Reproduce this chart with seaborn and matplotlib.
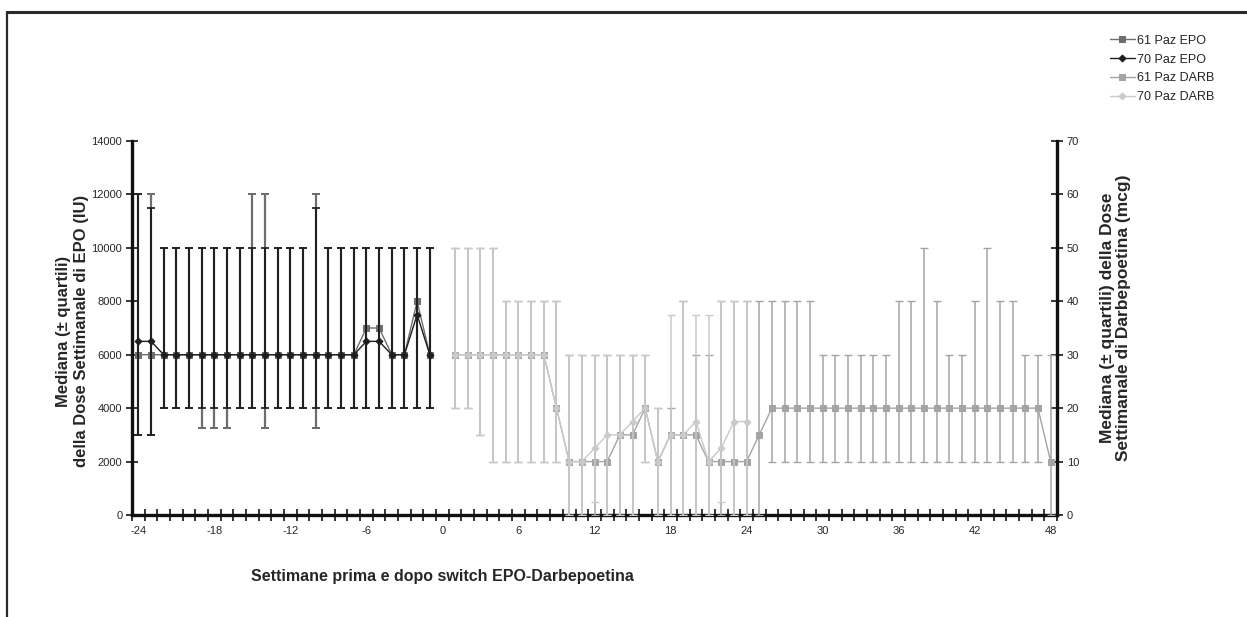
import numpy as np
import matplotlib
matplotlib.use("Agg")
import matplotlib.pyplot as plt
import seaborn as sns
from matplotlib.lines import Line2D

sns.set_style("white")
plt.rcParams['font.family'] = ['Liberation Sans', 'DejaVu Sans']
plt.rcParams['axes.unicode_minus'] = False

# weeks before switch (EPO) and after switch (Darbepoetin)
weeks_pre = list(range(-24, 0))
weeks_post = list(range(1, 49))
weeks_post70 = list(range(1, 25))

# 61 Paz EPO - median and quartiles (IU)
epo61_med = [6000]*18 + [7000, 7000, 6000, 6000, 8000, 6000]
epo61_lo = [3000, 3000, 4000, 4000, 4000, 3250, 3250, 3250, 4000, 4000, 3250,
            4000, 4000, 4000, 3250] + [4000]*9
epo61_hi = [12000, 12000] + [10000]*7 + [12000, 12000] + [10000]*3 + [12000] + [10000]*9

# 70 Paz EPO
epo70_med = [6500, 6500] + [6000]*16 + [6500, 6500, 6000, 6000, 7500, 6000]
epo70_lo = [3000, 3000] + [4000]*22
epo70_hi = [12000, 11500] + [10000]*12 + [11500] + [10000]*9

# 61 Paz DARB (mcg)
darb61_med = [30]*8 + [20, 10, 10, 10, 10, 15, 15, 20, 10, 15, 15, 15,
                       10, 10, 10, 10, 15] + [20]*22 + [10]
darb61_lo = [20, 20, 15] + [10]*6 + [0]*6 + [10] + [0]*9 + [10]*22 + [0]
darb61_hi = [50]*4 + [40]*5 + [30]*7 + [20, 20, 40, 30, 30] + [40]*8 + [30]*6 + \
            [40, 40, 50, 40, 30, 30, 40, 50, 40, 40, 30, 30, 30]

# 70 Paz DARB
darb70_med = [30]*8 + [20, 10, 10, 12.5, 15, 15, 17.5, 20, 10, 15, 15, 17.5,
                       10, 12.5, 17.5, 17.5]
darb70_lo = [20, 20, 15] + [10]*6 + [0, 0, 2.5, 0, 0, 0, 10, 0, 0, 0, 0, 0, 2.5, 0, 0]
darb70_hi = [50]*4 + [40]*5 + [30]*7 + [20, 37.5, 40, 37.5, 37.5, 40, 40, 40]

c_epo61, c_epo70 = '#6e6e6e', '#1e1e1e'
c_darb61, c_darb70 = '#a4a4a4', '#cacaca'

fig = plt.figure(figsize=(12.47, 6.17), dpi=100)
ax = fig.add_axes([0.1059, 0.1653, 0.7417, 0.6062])
ax2 = ax.twinx()


def draw(axis, x, med, lo, hi, color, marker, ms, elw, label):
    med = np.array(med, dtype=float)
    err = [med - np.array(lo), np.array(hi) - med]
    axis.errorbar(x, med, yerr=err, fmt='none', ecolor=color, elinewidth=elw,
                  capsize=3, capthick=elw * 0.9)
    sns.lineplot(x=x, y=med, ax=axis, color=color, marker=marker, markersize=ms,
                 markeredgecolor=color, linewidth=1.0, label=label)


draw(ax, weeks_pre, epo61_med, epo61_lo, epo61_hi, c_epo61, 's', 5, 1.6, '61 Paz EPO')
draw(ax, weeks_pre, epo70_med, epo70_lo, epo70_hi, c_epo70, 'D', 3.5, 1.4, '70 Paz EPO')
draw(ax2, weeks_post, darb61_med, darb61_lo, darb61_hi, c_darb61, 's', 5, 1.1, '61 Paz DARB')
draw(ax2, weeks_post70, darb70_med, darb70_lo, darb70_hi, c_darb70, 'D', 3.5, 1.1, '70 Paz DARB')

ax.set_xlim(-24.5, 48.5)
ax.set_ylim(0, 14000)
ax2.set_ylim(0, 70)
ax.set_yticks(range(0, 14001, 2000))
ax2.set_yticks(range(0, 71, 10))
ax.set_xticks(range(-24, 49, 6))
ax.set_xticks(np.arange(-24.5, 49, 1), minor=True)
ax.tick_params(axis='x', which='major', length=0, labelsize=8, pad=8)
ax.tick_params(axis='x', which='minor', direction='inout', length=8, width=1.3,
               bottom=True)
ax.tick_params(axis='y', direction='inout', length=8, width=1.3, labelsize=8,
               left=True, pad=3)
ax2.tick_params(axis='y', direction='inout', length=8, width=1.3, labelsize=8,
                right=True, pad=3)

for s in ['top', 'right']:
    ax.spines[s].set_visible(False)
for s in ['top', 'left', 'bottom']:
    ax2.spines[s].set_visible(False)
for sp in [ax.spines['left'], ax.spines['bottom'], ax2.spines['right']]:
    sp.set_linewidth(2.4)
    sp.set_color('#111111')
ax.set_xlabel('')
ax.set_ylabel('')
ax2.set_ylabel('')

h1, l1 = ax.get_legend_handles_labels()
h2, l2 = ax2.get_legend_handles_labels()
ax.get_legend().remove()
ax2.get_legend().remove()
fig.legend(h1 + h2, l1 + l2, loc='upper left', bbox_to_anchor=(0.881, 0.962),
           frameon=False, fontsize=9, handlelength=2.0, handletextpad=0.15,
           labelspacing=0.55)

fig.text(0.058, 0.463, 'Mediana (± quartili)\ndella Dose Settimanale di EPO (IU)',
         rotation=90, ha='center', va='center', fontsize=12, fontweight='bold',
         linespacing=1.2)
fig.text(0.8945, 0.485, 'Mediana (± quartili) della Dose\nSettimanale di Darbepoetina (mcg)',
         rotation=90, ha='center', va='center', fontsize=12.5, fontweight='bold',
         linespacing=1.15)
fig.text(0.355, 0.066, 'Settimane prima e dopo switch EPO-Darbepoetina',
         ha='center', va='center', fontsize=11.5, fontweight='bold')

# outer frame (top and left)
fig.add_artist(Line2D([0.0056, 1.0], [0.981, 0.981], color='#2a2a2a', lw=2.2,
                      transform=fig.transFigure))
fig.add_artist(Line2D([0.0056, 0.0056], [0.0, 0.981], color='#2a2a2a', lw=1.6,
                      transform=fig.transFigure))

fig.savefig('out.png', dpi=100)
